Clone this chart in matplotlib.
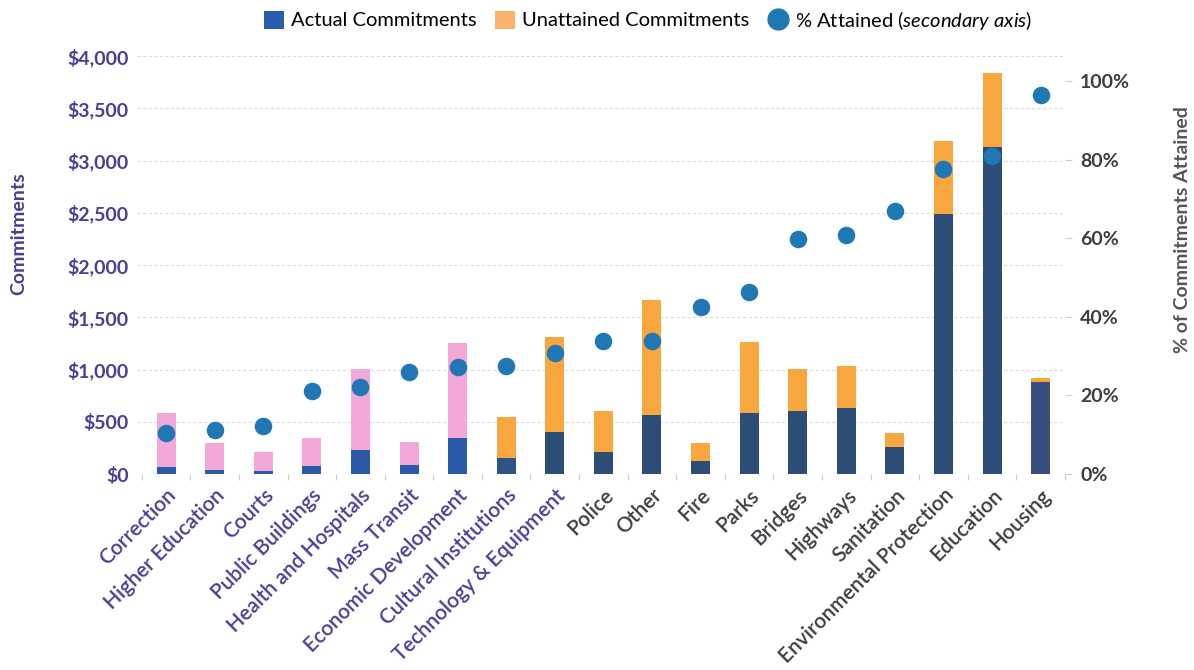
import matplotlib
matplotlib.use("Agg")
import matplotlib.pyplot as plt
import matplotlib.ticker as mticker
from matplotlib.patches import Patch
from matplotlib.lines import Line2D
import numpy as np

# ── Data ──────────────────────────────────────────────────────────────────────

agencies = [
    "Correction", "Higher Education", "Courts", "Public Buildings",
    "Health and Hospitals", "Mass Transit", "Economic Development",
    "Cultural Institutions", "Technology & Equipment", "Police", "Other",
    "Fire", "Parks", "Bridges", "Highways", "Sanitation",
    "Environmental Protection", "Education", "Housing",
]

actual     = [67, 38, 29, 77, 230, 86, 348, 156, 405, 207, 565, 124, 587, 603, 628, 262, 2485, 3126, 884]
unattained = [517, 259, 184, 267, 772, 223, 909, 386, 903, 399, 1100, 170, 673, 399, 409, 127, 705, 708, 32]
pct_attained = [10.4, 11.2, 12.2, 21.2, 22.2, 26.0, 27.3, 27.5, 30.9, 33.8, 33.9,
                42.6, 46.4, 59.7, 60.8, 67.0, 77.5, 81.0, 96.4]

# ── Style ─────────────────────────────────────────────────────────────────────

BLUE_BRIGHT = "#2b5ba8"
NAVY        = "#2c4e76"
PINK        = "#f3a8da"
ORANGE      = "#f8a63e"
DOT         = "#1f77b4"
PURPLE      = "#4a3d96"
DARK        = "#3c3c42"
GRID        = "#e0d9e0"

n = len(agencies)
actual_colors = [BLUE_BRIGHT] * 7 + ["#2f5486"] + [NAVY] * 10 + ["#3a4e7c"]
unatt_colors  = [PINK] * 7 + [ORANGE] * 12
label_colors  = [PURPLE] * 9 + [DARK] * 10

plt.rcParams.update({
    "font.family": ["Lato", "DejaVu Sans"],
    "mathtext.fontset": "custom",
    "mathtext.rm": "Lato",
    "mathtext.it": "Lato:italic",
})

fig = plt.figure(figsize=(11.94, 6.70), dpi=100)
ax = fig.add_axes([0.1147, 0.2925, 0.7772, 0.6239])
ax2 = ax.twinx()

x = np.arange(n)
BAR_W = 0.39

ax.bar(x, actual, BAR_W, color=actual_colors, zorder=3)
ax.bar(x, unattained, BAR_W, bottom=actual, color=unatt_colors, zorder=3)

ax.set_xlim(-0.6, n - 1 + 0.43)
ax.set_ylim(0, 4000)
ax.set_yticks(np.arange(0, 4001, 500))
ax.yaxis.set_major_formatter(mticker.FuncFormatter(lambda v, _: f"${int(v):,}"))
ax.tick_params(axis="y", length=0, pad=6, labelsize=14, labelcolor=PURPLE)
for t in ax.get_yticklabels():
    t.set_fontweight("bold")

ax.set_xticks(x)
ax.set_xticklabels(agencies, rotation=45, ha="right", rotation_mode="anchor",
                   fontsize=15, fontweight="semibold")
for t, c in zip(ax.get_xticklabels(), label_colors):
    t.set_color(c)
ax.tick_params(axis="x", length=0, pad=8)
ax.set_xticks(np.arange(-0.5, n, 1.0), minor=True)
ax.tick_params(axis="x", which="minor", length=4, color="#cccccc", width=0.8)

ax.yaxis.grid(True, color=GRID, linewidth=0.8, linestyle=(0, (3, 2)), zorder=0)
ax.set_axisbelow(True)
for s in ax.spines.values():
    s.set_visible(False)

ax.set_ylabel("Commitments", fontsize=14, fontweight="bold", color=PURPLE)
ax.yaxis.set_label_coords(-0.118, 0.575)

# secondary axis: % attained
ax2.scatter(x, pct_attained, s=135, color=DOT, zorder=5, clip_on=False)
ax2.set_ylim(0, 106.36)
ax2.set_yticks(np.arange(0, 101, 20))
ax2.yaxis.set_major_formatter(mticker.FuncFormatter(lambda v, _: f"{int(v)}%"))
ax2.tick_params(axis="y", length=5, color="#cccccc", width=0.8, pad=6,
                labelsize=14, labelcolor="#3d3d3d")
for t in ax2.get_yticklabels():
    t.set_fontweight("bold")
for s in ax2.spines.values():
    s.set_visible(False)
ax2.set_ylabel("% of Commitments Attained", fontsize=14, fontweight="bold", color="#555555")
ax2.yaxis.set_label_coords(1.117, 0.585)

handles = [
    Patch(facecolor="#2a5db0", edgecolor="none"),
    Patch(facecolor="#f8b26c", edgecolor="none"),
    Line2D([], [], marker="o", linestyle="none", markersize=15,
           markerfacecolor=DOT, markeredgecolor=DOT),
]
labels = ["Actual Commitments", "Unattained Commitments",
          r"% Attained $\mathit{(secondary\ axis)}$"]
fig.legend(handles, labels, loc="center", bbox_to_anchor=(648 / 1194, 1 - 20 / 670),
           ncol=3, frameon=False, fontsize=14.5, handlelength=1.0, handleheight=1.0,
           handletextpad=0.35, columnspacing=0.9, borderaxespad=0)

fig.savefig("out.png", dpi=100)
